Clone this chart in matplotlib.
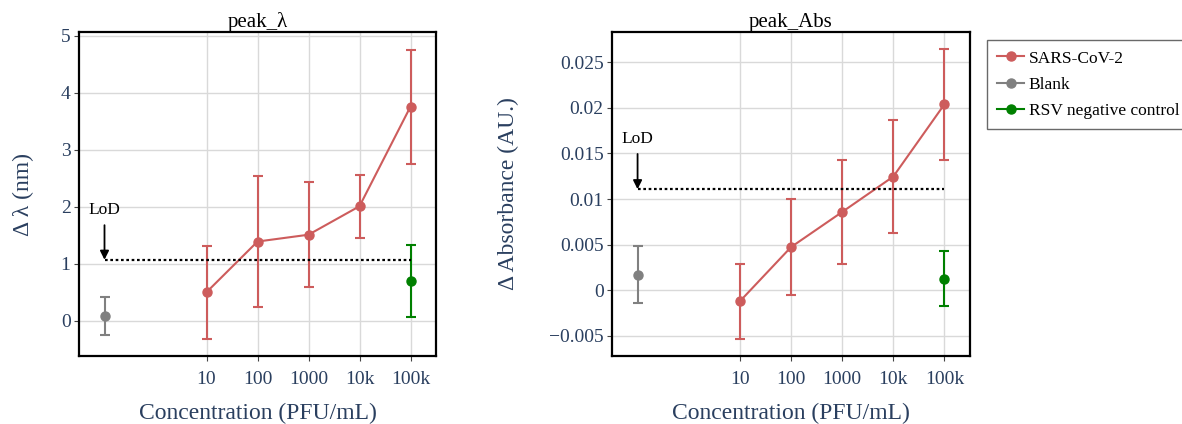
import matplotlib
matplotlib.use('Agg')
import matplotlib.pyplot as plt
from matplotlib.lines import Line2D

plt.rcParams['font.family'] = ['Liberation Serif', 'DejaVu Serif']

# concentrations (PFU/mL); blank is drawn at 0.1 on the log axis
conc = [10, 100, 1000, 1e4, 1e5]
conc_labels = ['10', '100', '1000', '10k', '100k']
blank_x = 0.1

# peak wavelength shift
lam_mean = [0.50, 1.39, 1.51, 2.01, 3.76]
lam_err = [0.82, 1.15, 0.92, 0.55, 1.00]
lam_blank, lam_blank_err = 0.08, 0.33
lam_rsv, lam_rsv_err = 0.70, 0.63
lam_lod = 1.07

# peak absorbance change
abs_mean = [-0.00121, 0.00473, 0.00858, 0.01246, 0.02038]
abs_err = [0.0041, 0.0053, 0.0057, 0.0062, 0.0061]
abs_blank, abs_blank_err = 0.00172, 0.00314
abs_rsv, abs_rsv_err = 0.00125, 0.0030
abs_lod = 0.01107

RED = '#cd5c5c'
GRAY = '#808080'
GREEN = '#008000'
NAVY = '#2a3f5f'
GRID = '#d9d9d9'


def panel(ax, title, mean, err, blank, blank_err, rsv, rsv_err, lod,
          ylim, yticks, yticklabels, ylabel, lod_text_y, ylabel_x):
    ax.set_xscale('log')
    ax.set_xlim(10 ** -1.5, 10 ** 5.5)
    ax.set_ylim(*ylim)
    kw = dict(marker='o', markersize=6.5, lw=1.5, capsize=3.5, capthick=1.5,
              elinewidth=1.5, zorder=3)
    ax.errorbar(conc, mean, yerr=err, color=RED, **kw)
    ax.errorbar([blank_x], [blank], yerr=[blank_err], color=GRAY, **kw)
    ax.errorbar([conc[-1]], [rsv], yerr=[rsv_err], color=GREEN, **kw)
    ax.plot([blank_x, conc[-1]], [lod, lod], color='black', ls=(0, (1.2, 1.2)),
            lw=1.6, zorder=4)
    ax.annotate('LoD', xy=(blank_x, lod), xytext=(blank_x, lod_text_y),
                ha='center', va='center', fontsize=12.5, color='black',
                arrowprops=dict(arrowstyle='-|>', color='black', lw=1.3,
                                mutation_scale=13, shrinkA=3, shrinkB=0))
    ax.set_xticks(conc)
    ax.set_xticklabels(conc_labels)
    ax.minorticks_off()
    ax.set_yticks(yticks)
    ax.set_yticklabels(yticklabels)
    ax.grid(True, color=GRID, lw=1, zorder=0)
    ax.set_axisbelow(True)
    ax.tick_params(axis='both', direction='out', length=3.6, width=0.8,
                   color='#444444', labelsize=14, labelcolor=NAVY)
    ax.tick_params(axis='x', pad=7.5)
    ax.tick_params(axis='y', pad=2.5)
    for s in ax.spines.values():
        s.set_linewidth(1.6)
        s.set_color('black')
    ax.set_title(title, fontsize=15, pad=3, color='black')
    ax.set_xlabel('Concentration (PFU/mL)', fontsize=17, color=NAVY, va='center')
    ax.xaxis.set_label_coords(0.5, -0.176)
    ax.set_ylabel(ylabel, fontsize=17, color=NAVY, va='center')
    ax.yaxis.set_label_coords(ylabel_x, 0.5)


fig = plt.figure(figsize=(11.82, 4.24), dpi=100)
ax1 = fig.add_axes([79 / 1182, 68 / 424, 357 / 1182, 324 / 424])
ax2 = fig.add_axes([612 / 1182, 68 / 424, 358 / 1182, 324 / 424])

panel(ax1, 'peak_λ', lam_mean, lam_err, lam_blank, lam_blank_err,
      lam_rsv, lam_rsv_err, lam_lod, (-0.62, 5.07), [0, 1, 2, 3, 4, 5],
      ['0', '1', '2', '3', '4', '5'], 'Δ λ (nm)', 1.94, -0.155)
panel(ax2, 'peak_Abs', abs_mean, abs_err, abs_blank, abs_blank_err,
      abs_rsv, abs_rsv_err, abs_lod, (-0.0072, 0.0283),
      [-0.005, 0, 0.005, 0.01, 0.015, 0.02, 0.025],
      ['−0.005', '0', '0.005', '0.01', '0.015', '0.02', '0.025'],
      'Δ Absorbance (AU.)', 0.01657, -0.29)

handles = [Line2D([], [], color=c, marker='o', markersize=6.5, lw=1.5)
           for c in (RED, GRAY, GREEN)]
leg = fig.legend(handles, ['SARS-CoV-2', 'Blank', 'RSV negative control'],
                 loc='upper left', bbox_to_anchor=(987 / 1182, 1 - 40 / 424),
                 fontsize=12.5, frameon=True, fancybox=False, borderaxespad=0,
                 handlelength=1.55, handletextpad=0.25, labelspacing=0.58,
                 borderpad=0.6)
leg.get_frame().set_edgecolor('#444444')
leg.get_frame().set_linewidth(1.0)

fig.savefig('out.png', dpi=100, facecolor='white')
